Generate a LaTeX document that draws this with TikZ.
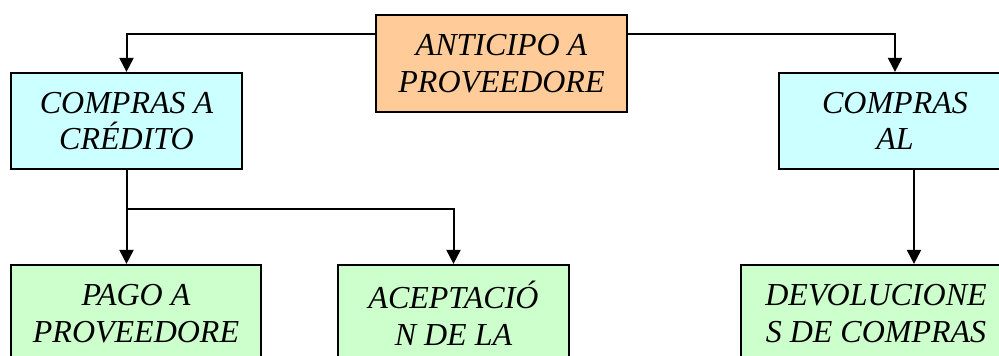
\documentclass[tikz,border=0pt]{standalone}
\usepackage{fontspec}
\setmainfont{Liberation Serif}
\usetikzlibrary{arrows.meta}
\definecolor{peach}{RGB}{255,204,153}
\definecolor{paleblue}{RGB}{204,255,255}
\definecolor{palegreen}{RGB}{204,255,204}
\begin{document}
\begin{tikzpicture}[x=1pt,y=-1pt,
  box/.style={draw=black, line width=2.2pt, inner sep=0pt, align=center,
    font=\fontsize{32}{36.5}\selectfont\itshape},
  arr/.style={line width=2pt, -{Triangle[width=14pt,length=14pt]}}]
\useasboundingbox (0,0) rectangle (999,356);
\clip (0,0) rectangle (999,356);
\node[box, fill=peach, minimum width=251pt, minimum height=97pt] (top) at (501.5,63.5) {ANTICIPO A\\PROVEEDORE};
\node[box, fill=paleblue, minimum width=231pt, minimum height=96pt] (credit) at (126.5,121) {COMPRAS A\\CRÉDITO};
\node[box, fill=paleblue, minimum width=232pt, minimum height=96pt] (al) at (895,121) {COMPRAS\\AL};
\node[box, fill=palegreen, minimum width=250pt, minimum height=97pt] (pago) at (136,313.5) {PAGO A\\PROVEEDORE};
\node[box, fill=palegreen, minimum width=231pt, minimum height=97pt] (acep) at (453.5,313.5) {ACEPTACIÓ\\N DE LA};
\node[box, fill=palegreen, minimum width=270pt, minimum height=97pt] (dev) at (876,313.5) {DEVOLUCIONE\\S DE COMPRAS};
\draw[arr] ([yshift=-20pt]top.north west) -| (credit.north);
\draw[arr] ([yshift=-20pt]top.north east) -| (al.north);
\draw[arr] (credit.south) -- (credit.south |- pago.north);
\coordinate (branch) at ([yshift=-39pt]credit.south);
\draw[arr] (branch) -| (acep.north);
\coordinate (alout) at ([xshift=19pt]al.south);
\draw[arr] (alout) -- (alout |- dev.north);
\end{tikzpicture}
\end{document}
